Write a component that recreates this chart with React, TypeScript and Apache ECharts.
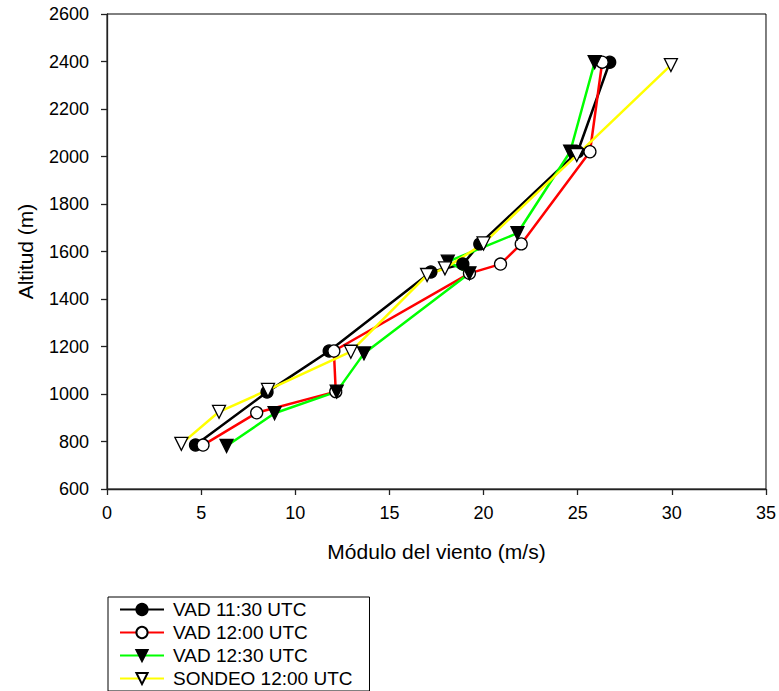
import React, { useEffect, useRef } from "react";
import * as echarts from "echarts";

// Wind speed (m/s) and altitude (m) for each profile
const vad1130Speed = [4.7, 8.5, 11.8, 17.2, 18.9, 19.8, 25.0, 26.7];
const vad1130Alt = [785, 1008, 1181, 1514, 1547, 1632, 2020, 2397];

const vad1200Speed = [5.1, 7.95, 12.15, 12.05, 19.25, 20.9, 22.0, 25.65, 26.3];
const vad1200Alt = [785, 921, 1010, 1181, 1508, 1547, 1632, 2020, 2397];

const vad1230Speed = [6.35, 8.9, 12.2, 13.65, 19.25, 18.1, 21.8, 24.6, 25.9];
const vad1230Alt = [781, 919, 1010, 1171, 1508, 1557, 1677, 2020, 2397];

const sondeoSpeed = [3.95, 5.95, 8.55, 12.95, 17.0, 17.95, 20.0, 24.95, 29.95];
const sondeoAlt = [790, 925, 1017, 1178, 1501, 1529, 1634, 2006, 2385];

const seriesNames = ["VAD 11:30 UTC", "VAD 12:00 UTC", "VAD 12:30 UTC", "SONDEO 12:00 UTC"];

const FONT = "Arial, 'Liberation Sans', sans-serif";

const pairs = (xs: number[], ys: number[]) => xs.map((x, i) => [x, ys[i]]);

export default function App() {
  const ref = useRef<HTMLDivElement>(null);

  useEffect(() => {
    if (!ref.current) return;
    const chart = echarts.init(ref.current, undefined, { renderer: "svg" });

    const mk = (
      name: string,
      data: number[][],
      lineColor: string,
      symbol: string,
      fill: string,
      rotate: number,
      size: number
    ) => ({
      name,
      type: "line",
      data,
      symbol,
      symbolSize: size,
      symbolRotate: rotate,
      showAllSymbol: true,
      lineStyle: { color: lineColor, width: 2.5 },
      itemStyle: { color: fill, borderColor: "#000", borderWidth: 1.3 },
      emphasis: { disabled: true },
      silent: true,
    });

    chart.setOption({
      animation: false,
      backgroundColor: "#fff",
      textStyle: { fontFamily: FONT },
      grid: {
        left: 107,
        right: 13,
        top: 14,
        bottom: 202,
        show: true,
        borderColor: "#000",
        borderWidth: 1,
      },
      xAxis: {
        type: "value",
        min: 0,
        max: 35,
        interval: 5,
        name: "Módulo del viento (m/s)",
        nameLocation: "middle",
        nameGap: 52,
        nameTextStyle: { fontSize: 21, color: "#000", fontFamily: FONT },
        axisLine: { show: true, lineStyle: { color: "#222", width: 1.3 } },
        axisTick: { show: true, inside: false, length: 6, lineStyle: { color: "#222", width: 1.3 } },
        axisLabel: { fontSize: 18, color: "#000", margin: 15, fontFamily: FONT },
        splitLine: { show: false },
      },
      yAxis: {
        type: "value",
        min: 600,
        max: 2600,
        interval: 200,
        name: "Altitud (m)",
        nameLocation: "middle",
        nameGap: 71,
        nameRotate: 90,
        nameTextStyle: { fontSize: 21, color: "#000", fontFamily: FONT },
        axisLine: { show: true, lineStyle: { color: "#222", width: 1.3 } },
        axisTick: { show: true, inside: false, length: 6, lineStyle: { color: "#222", width: 1.3 } },
        axisLabel: {
          fontSize: 18,
          color: "#000",
          margin: 18,
          fontFamily: FONT,
          formatter: (v: number) => String(v),
        },
        splitLine: { show: false },
      },
      legend: {
        data: seriesNames,
        orient: "vertical",
        left: 108,
        top: 597,
        itemWidth: 44,
        itemHeight: 14,
        itemGap: 4,
        padding: [3, 17, 3, 11],
        borderColor: "#000",
        borderWidth: 1,
        backgroundColor: "#fff",
        selectedMode: false,
        textStyle: { fontSize: 19, color: "#000", fontFamily: FONT, padding: [0, 0, 0, 4] },
      },
      series: [
        mk(seriesNames[0], pairs(vad1130Speed, vad1130Alt), "#000000", "circle", "#000", 0, 12),
        mk(seriesNames[1], pairs(vad1200Speed, vad1200Alt), "#ff0000", "circle", "#fff", 0, 12),
        mk(seriesNames[2], pairs(vad1230Speed, vad1230Alt), "#00ff00", "triangle", "#000", 180, 13),
        mk(seriesNames[3], pairs(sondeoSpeed, sondeoAlt), "#ffff00", "triangle", "#fff", 180, 13),
      ],
    });

    return () => chart.dispose();
  }, []);

  return (
    <div
      ref={ref}
      style={{ position: "fixed", left: 0, top: 0, width: 779, height: 691, background: "#fff" }}
    />
  );
}
